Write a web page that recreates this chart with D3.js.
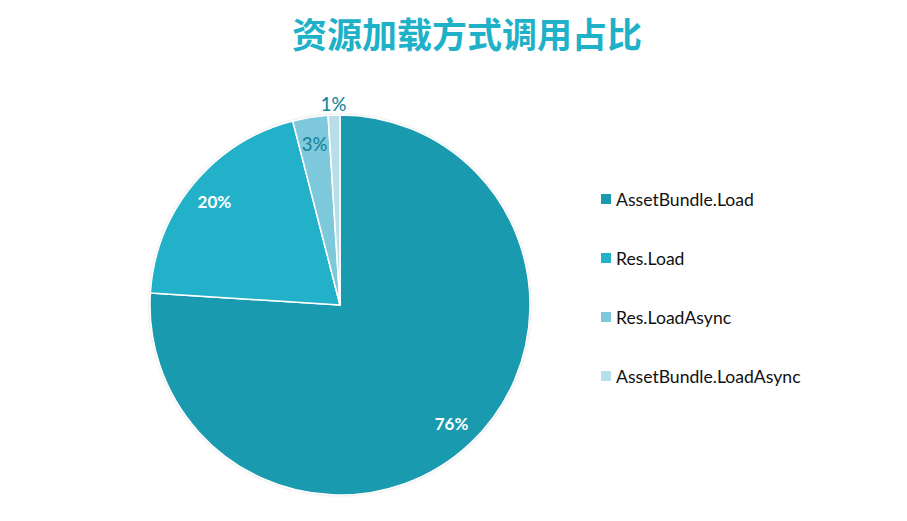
<!DOCTYPE html>
<html><head><meta charset="utf-8">
<script src="https://cdn.jsdelivr.net/npm/d3@7/dist/d3.min.js"></script>
<style>body{margin:0;background:#fff;}</style>
</head><body>
<svg id="chart" width="907" height="521"></svg>
<script>
const title = "资源加载方式调用占比";
const categories = ["AssetBundle.Load", "Res.Load", "Res.LoadAsync", "AssetBundle.LoadAsync"];
const values = [76, 20, 3, 1];
const colors = ["#1a9aae", "#22b1c9", "#7dc9db", "#b8dfe9"];

const svg = d3.select("#chart");
const cx = 340, cy = 305, R = 190;

svg.append("text").attr("x", 467).attr("y", 32)
  .attr("text-anchor", "middle").attr("dominant-baseline", "central")
  .attr("font-family", "'Noto Sans CJK SC'").attr("font-weight", "bold")
  .attr("font-size", 35).attr("fill", "#1eb1c8").text(title);

const defs = svg.append("defs");
const f = defs.append("filter").attr("id", "sh").attr("x", "-10%").attr("y", "-10%").attr("width", "120%").attr("height", "120%");
f.append("feDropShadow").attr("dx", 0).attr("dy", 0).attr("stdDeviation", 1.5).attr("flood-color", "#000").attr("flood-opacity", 0.25);

const pie = d3.pie().sort(null).value(d => d);
const arcs = pie(values);
const arc = d3.arc().innerRadius(0).outerRadius(R);
const g = svg.append("g").attr("transform", `translate(${cx},${cy})`);
g.append("circle").attr("r", R).attr("fill", "#fff").attr("filter", "url(#sh)");
g.selectAll("path").data(arcs).enter().append("path")
  .attr("d", arc).attr("fill", (d, i) => colors[i])
  .attr("stroke", "#fff").attr("stroke-width", 1.5).attr("stroke-linejoin", "round");

const total = d3.sum(values);
const inArc = d3.arc().innerRadius(163).outerRadius(163);
const outArc = d3.arc().innerRadius(201).outerRadius(201);
g.selectAll("text.lbl").data(arcs).enter().append("text")
  .attr("class", "lbl")
  .attr("transform", d => `translate(${(d.data / total < 0.02 ? outArc : inArc).centroid(d)})`)
  .attr("text-anchor", "middle").attr("dominant-baseline", "central")
  .attr("font-family", "Lato, 'Open Sans', sans-serif")
  .attr("font-weight", d => d.data / total < 0.1 ? 500 : "bold")
  .attr("font-size", d => d.data / total < 0.1 ? 18.5 : 17)
  .attr("fill", d => d.data / total < 0.1 ? "#17869b" : "#fff")
  .text(d => Math.round(d.data / total * 100) + "%");

const lg = svg.append("g");
const rows = lg.selectAll("g").data(categories).enter().append("g")
  .attr("transform", (d, i) => `translate(601, ${199 + i * 59})`);
rows.append("rect").attr("x", 0).attr("y", -5).attr("width", 10).attr("height", 10)
  .attr("fill", (d, i) => colors[i]);
rows.append("text").attr("x", 15).attr("y", 0).attr("dominant-baseline", "central")
  .attr("font-family", "Lato, 'Open Sans', sans-serif").attr("font-size", 17.6)
  .attr("fill", "#111").text(d => d);
</script>
</body></html>
